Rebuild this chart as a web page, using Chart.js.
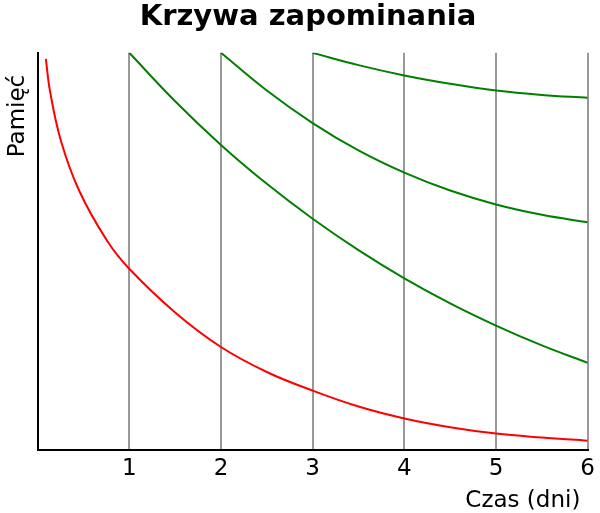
<!DOCTYPE html>
<html>
<head>
<meta charset="utf-8">
<script src="https://cdn.jsdelivr.net/npm/chart.js@4"></script>
<style>
  body { margin: 0; background: #fff; }
</style>
</head>
<body>
<canvas id="forgetChart" width="600" height="513"></canvas>
<script>
const tickDays = [1, 2, 3, 4, 5, 6];

// bez powtórek
const redDays = [0.09, 0.135, 0.255, 0.455, 0.76, 1, 1.5, 2, 2.5, 3, 3.5, 4, 4.5, 5, 5.5, 6];
const redMemory = [98.5, 90.4, 77.8, 65.2, 52.6, 45.6, 34.6, 25.9, 19.6, 14.9, 10.9, 7.9, 5.7, 4.1, 3.1, 2.3];

// powtórka po 1 dniu
const review1Days = [1, 1.5, 2, 2.5, 3, 3.5, 4, 4.5, 5, 5.5, 6];
const review1Memory = [100, 87.8, 76.8, 67.0, 58.2, 50.3, 43.2, 36.9, 31.3, 26.3, 21.9];

// powtórka po 2 dniach
const review2Days = [2, 2.5, 3, 3.5, 4, 4.5, 5, 5.5, 6];
const review2Memory = [100, 90.5, 82.3, 75.4, 69.8, 65.3, 61.8, 59.2, 57.3];

// powtórka po 3 dniach
const review3Days = [3, 3.5, 4, 4.5, 5, 5.5, 6];
const review3Memory = [100, 96.9, 94.3, 92.2, 90.5, 89.4, 88.7];

const pts = (xs, ys) => xs.map((x, i) => ({ x: x, y: ys[i] }));

function curve(xs, ys, color) {
    return {
        data: pts(xs, ys),
        borderColor: color,
        borderWidth: 2,
        pointRadius: 0,
        fill: false,
        tension: 0.4,
    };
}

const font = "'DejaVu Sans', sans-serif";

new Chart(document.getElementById("forgetChart"), {
    type: "line",
    data: {
        datasets: [
            curve(redDays, redMemory, "#ff0000"),
            curve(review1Days, review1Memory, "#008000"),
            curve(review2Days, review2Memory, "#008000"),
            curve(review3Days, review3Memory, "#008000"),
        ],
    },
    options: {
        responsive: false,
        animation: false,
        // lewy margines przesuwa tytuł w prawo jak w oryginale
        layout: { padding: { left: 16, right: 0, bottom: 0 } },
        plugins: {
            legend: { display: false },
            tooltip: { enabled: false },
            title: {
                display: true,
                text: "Krzywa zapominania",
                color: "#000",
                font: { family: font, size: 29, weight: "bold" },
                padding: { top: 0, bottom: 18 },
            },
        },
        scales: {
            x: {
                type: "linear",
                min: 0,
                max: 6,
                afterBuildTicks: (axis) => {
                    axis.ticks = tickDays.map((v) => ({ value: v }));
                },
                ticks: {
                    color: "#000",
                    font: { family: font, size: 23 },
                    padding: 5,
                    maxRotation: 0,
                    autoSkip: false,
                },
                grid: { color: "#999999", lineWidth: 2, drawTicks: false },
                border: { color: "#000", width: 2 },
                title: {
                    display: true,
                    text: "Czas (dni) ",
                    align: "end",
                    color: "#000",
                    font: { family: font, size: 23 },
                    padding: { top: 0, bottom: -2 },
                },
            },
            y: {
                min: 0,
                max: 100,
                ticks: { display: false },
                grid: { display: false, drawTicks: false },
                border: { color: "#000", width: 2 },
                title: {
                    display: true,
                    text: "Pamięć   ",
                    align: "end",
                    color: "#000",
                    font: { family: font, size: 23 },
                    padding: { top: -12, bottom: 6 },
                },
            },
        },
    },
});
</script>
</body>
</html>
